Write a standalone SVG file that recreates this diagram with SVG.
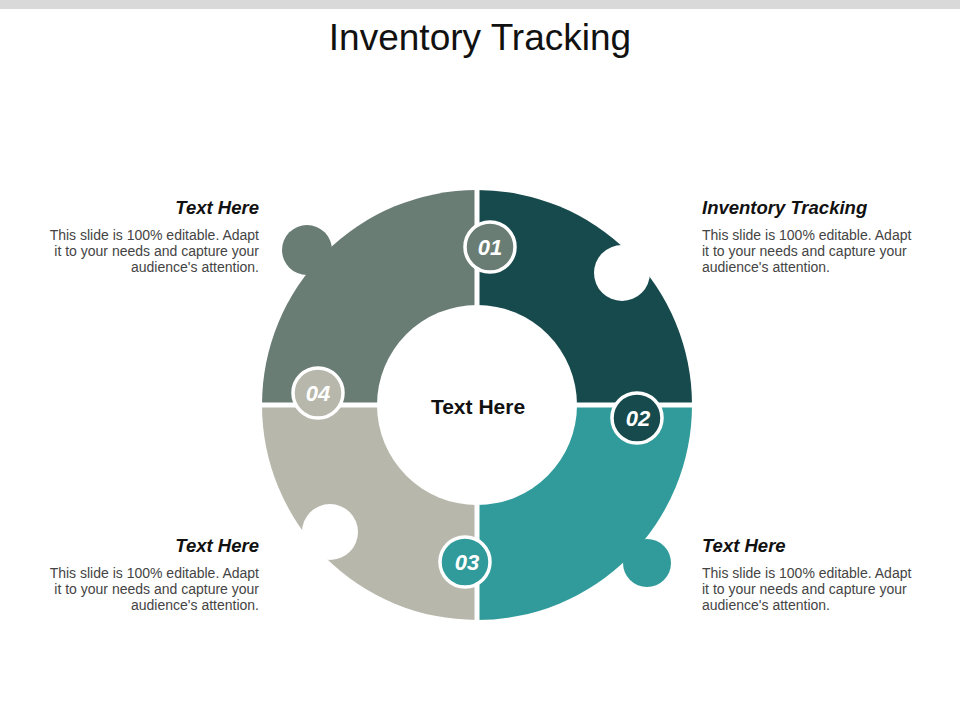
<svg xmlns="http://www.w3.org/2000/svg" width="960" height="720" viewBox="0 0 960 720">
<style>
text{font-family:"Liberation Sans",Arial,sans-serif}
.h{font-size:18.5px;font-weight:bold;font-style:italic;fill:#111}
.b{font-size:14px;fill:#444}
.n{font-size:22px;font-weight:bold;font-style:italic;fill:#fff;text-anchor:middle}
.badge{stroke:#fff;stroke-width:3.5}
</style>
<rect width="960" height="720" fill="#fff"/>
<rect width="960" height="9" fill="#d9d9d9"/>
<text x="480" y="50" font-size="37" text-anchor="middle" fill="#111">Inventory Tracking</text>
<g id="ring">
<path d="M477,405 L477,190 A215,215 0 0 1 692,405 Z" fill="#174a4c"/>
<path d="M477,405 L692,405 A215,215 0 0 1 477,620 Z" fill="#319b9b"/>
<path d="M477,405 L477,620 A215,215 0 0 1 262,405 Z" fill="#b7b7ab"/>
<path d="M477,405 L262,405 A215,215 0 0 1 477,190 Z" fill="#6a7d75"/>
<circle cx="307" cy="250" r="25" fill="#6a7d75"/>
<circle cx="647" cy="563" r="24" fill="#319b9b"/>
<circle cx="622" cy="273" r="28" fill="#fff"/>
<circle cx="330" cy="532" r="28" fill="#fff"/>
<path d="M477,185 V625 M257,405 H697" stroke="#fff" stroke-width="5"/>
<circle cx="477" cy="405" r="100" fill="#fff"/>
<text x="478" y="414" font-size="21" font-weight="bold" text-anchor="middle" fill="#111">Text Here</text>
</g>
<g id="b01"><circle class="badge" cx="490" cy="247" r="25" fill="#6a7d75"/><text class="n" x="490" y="255">01</text></g>
<g id="b02"><circle class="badge" cx="637" cy="418" r="25" fill="#174a4c"/><text class="n" x="638" y="426">02</text></g>
<g id="b03"><circle class="badge" cx="465" cy="562" r="25" fill="#319b9b"/><text class="n" x="467" y="570">03</text></g>
<g id="b04"><circle class="badge" cx="318" cy="393" r="25" fill="#b7b7ab"/><text class="n" x="318" y="401">04</text></g>
<g id="t1"><text class="h" x="702" y="214">Inventory Tracking</text>
<text class="b" x="702" y="240">This slide is 100% editable. Adapt</text><text class="b" x="702" y="256">it to your needs and capture your</text><text class="b" x="702" y="272">audience's attention.</text></g>
<g id="t2"><text class="h" x="702" y="552">Text Here</text>
<text class="b" x="702" y="578">This slide is 100% editable. Adapt</text><text class="b" x="702" y="594">it to your needs and capture your</text><text class="b" x="702" y="610">audience's attention.</text></g>
<g id="t3" text-anchor="end"><text class="h" x="259" y="552">Text Here</text>
<text class="b" x="259" y="578">This slide is 100% editable. Adapt</text><text class="b" x="259" y="594">it to your needs and capture your</text><text class="b" x="259" y="610">audience's attention.</text></g>
<g id="t4" text-anchor="end"><text class="h" x="259" y="214">Text Here</text>
<text class="b" x="259" y="240">This slide is 100% editable. Adapt</text><text class="b" x="259" y="256">it to your needs and capture your</text><text class="b" x="259" y="272">audience's attention.</text></g>
</svg>
